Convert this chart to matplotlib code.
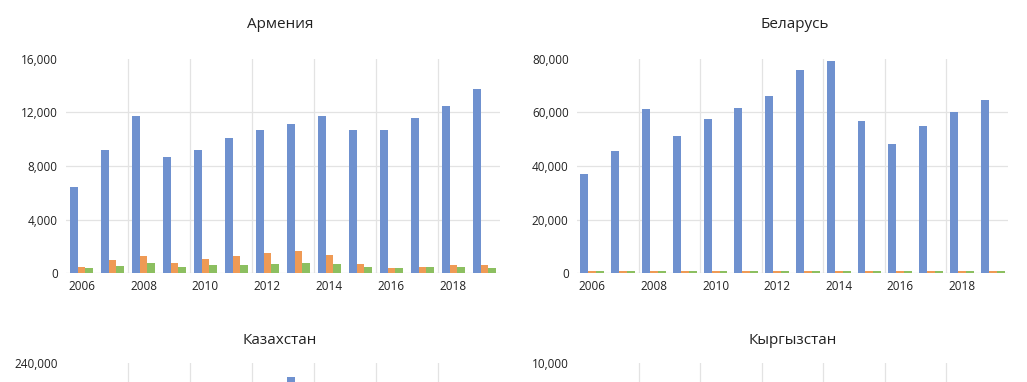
import matplotlib.pyplot as plt
import numpy as np

plt.rcParams['font.family'] = ['Open Sans', 'DejaVu Sans']

years = list(range(2006, 2020))

# Армения
arm_blue = [6400, 9200, 11700, 8700, 9200, 10100, 10700, 11100, 11700, 10650, 10650, 11600, 12500, 13700]
arm_orange = [500, 1000, 1300, 800, 1100, 1300, 1550, 1650, 1400, 700, 370, 470, 600, 600]
arm_green = [400, 570, 790, 470, 620, 600, 690, 790, 690, 490, 370, 470, 490, 370]

# Беларусь
bel_blue = [37000, 45600, 61100, 51100, 57400, 61600, 66200, 75700, 79200, 56800, 48100, 55000, 60100, 64700]
bel_orange = [800] * 14
bel_green = [800] * 14

# Казахстан (only the 2013 bar top is visible in the picture)
kaz_blue = [120000, 150000, 170000, 160000, 175000, 190000, 205000, 224000, 200000, 180000, 160000, 175000, 185000, 195000]
kaz_orange = [5000] * 14
kaz_green = [4000] * 14

# Кыргызстан (nothing visible above the crop)
kgz_blue = [3000, 4000, 5000, 4500, 4800, 5500, 6000, 6500, 6800, 6000, 5500, 6000, 6500, 7000]
kgz_orange = [300] * 14
kgz_green = [200] * 14

colors = ['#6f91cf', '#ef9a55', '#8cbf60']

W, H = 1027, 382
fig = plt.figure(figsize=(W / 100, H / 100), dpi=100)


def panel(left, right, top, bottom, title, title_x, title_y, series, ymax, cropped=False):
    ax = fig.add_axes([left / W, 1 - bottom / H, (right - left) / W, (bottom - top) / H])
    x = np.arange(len(years))
    bw = 0.258
    for k, (vals, c) in enumerate(zip(series, colors)):
        ax.bar(x + (k - 1) * bw, vals, width=bw, color=c, zorder=3)
    ax.set_xlim(-0.5, len(years) - 0.5)
    ax.set_ylim(0, ymax)
    yt = np.linspace(0, ymax, 5)
    # bottom row is cut by the picture edge: only its top label shows
    shown = yt[-1:] if cropped else yt
    ax.set_yticks(shown)
    ax.set_yticklabels([f'{int(v):,}' for v in shown])
    if cropped:
        ax.set_xticks([])
    else:
        ax.set_xticks(x[::2])
        ax.set_xticklabels([str(y) for y in years[::2]])
    for b in np.arange(1.5, len(years) - 0.5, 2):
        ax.axvline(b, color='#e3e3e3', lw=0.9, zorder=1)
    # horizontal gridlines (the top one is barely visible in the reference)
    for v in yt[1:-1]:
        ax.axhline(v, color='#e3e3e3', lw=0.9, zorder=1)
    for s in ax.spines.values():
        s.set_visible(False)
    ax.axhline(0, color='#d9d9d9', lw=0.9, zorder=2)
    ax.tick_params(length=0, labelsize=8.5, colors='#222222')
    ax.tick_params(axis='y', pad=6)
    ax.tick_params(axis='x', pad=5)
    fig.text(title_x / W, 1 - title_y / H, title, ha='center', va='center',
             fontsize=11, color='#222222')
    return ax


panel(66, 500, 58.6, 273.3, 'Армения', 280, 24, [arm_blue, arm_orange, arm_green], 16000)
panel(577, 1008, 58.6, 273.3, 'Беларусь', 795, 24, [bel_blue, bel_orange, bel_green], 80000)
panel(66, 500, 363, 577.7, 'Казахстан', 280, 341, [kaz_blue, kaz_orange, kaz_green], 240000, True)
panel(577, 1008, 363, 577.7, 'Кыргызстан', 793, 341, [kgz_blue, kgz_orange, kgz_green], 10000, True)

fig.savefig('out.png', dpi=100)
